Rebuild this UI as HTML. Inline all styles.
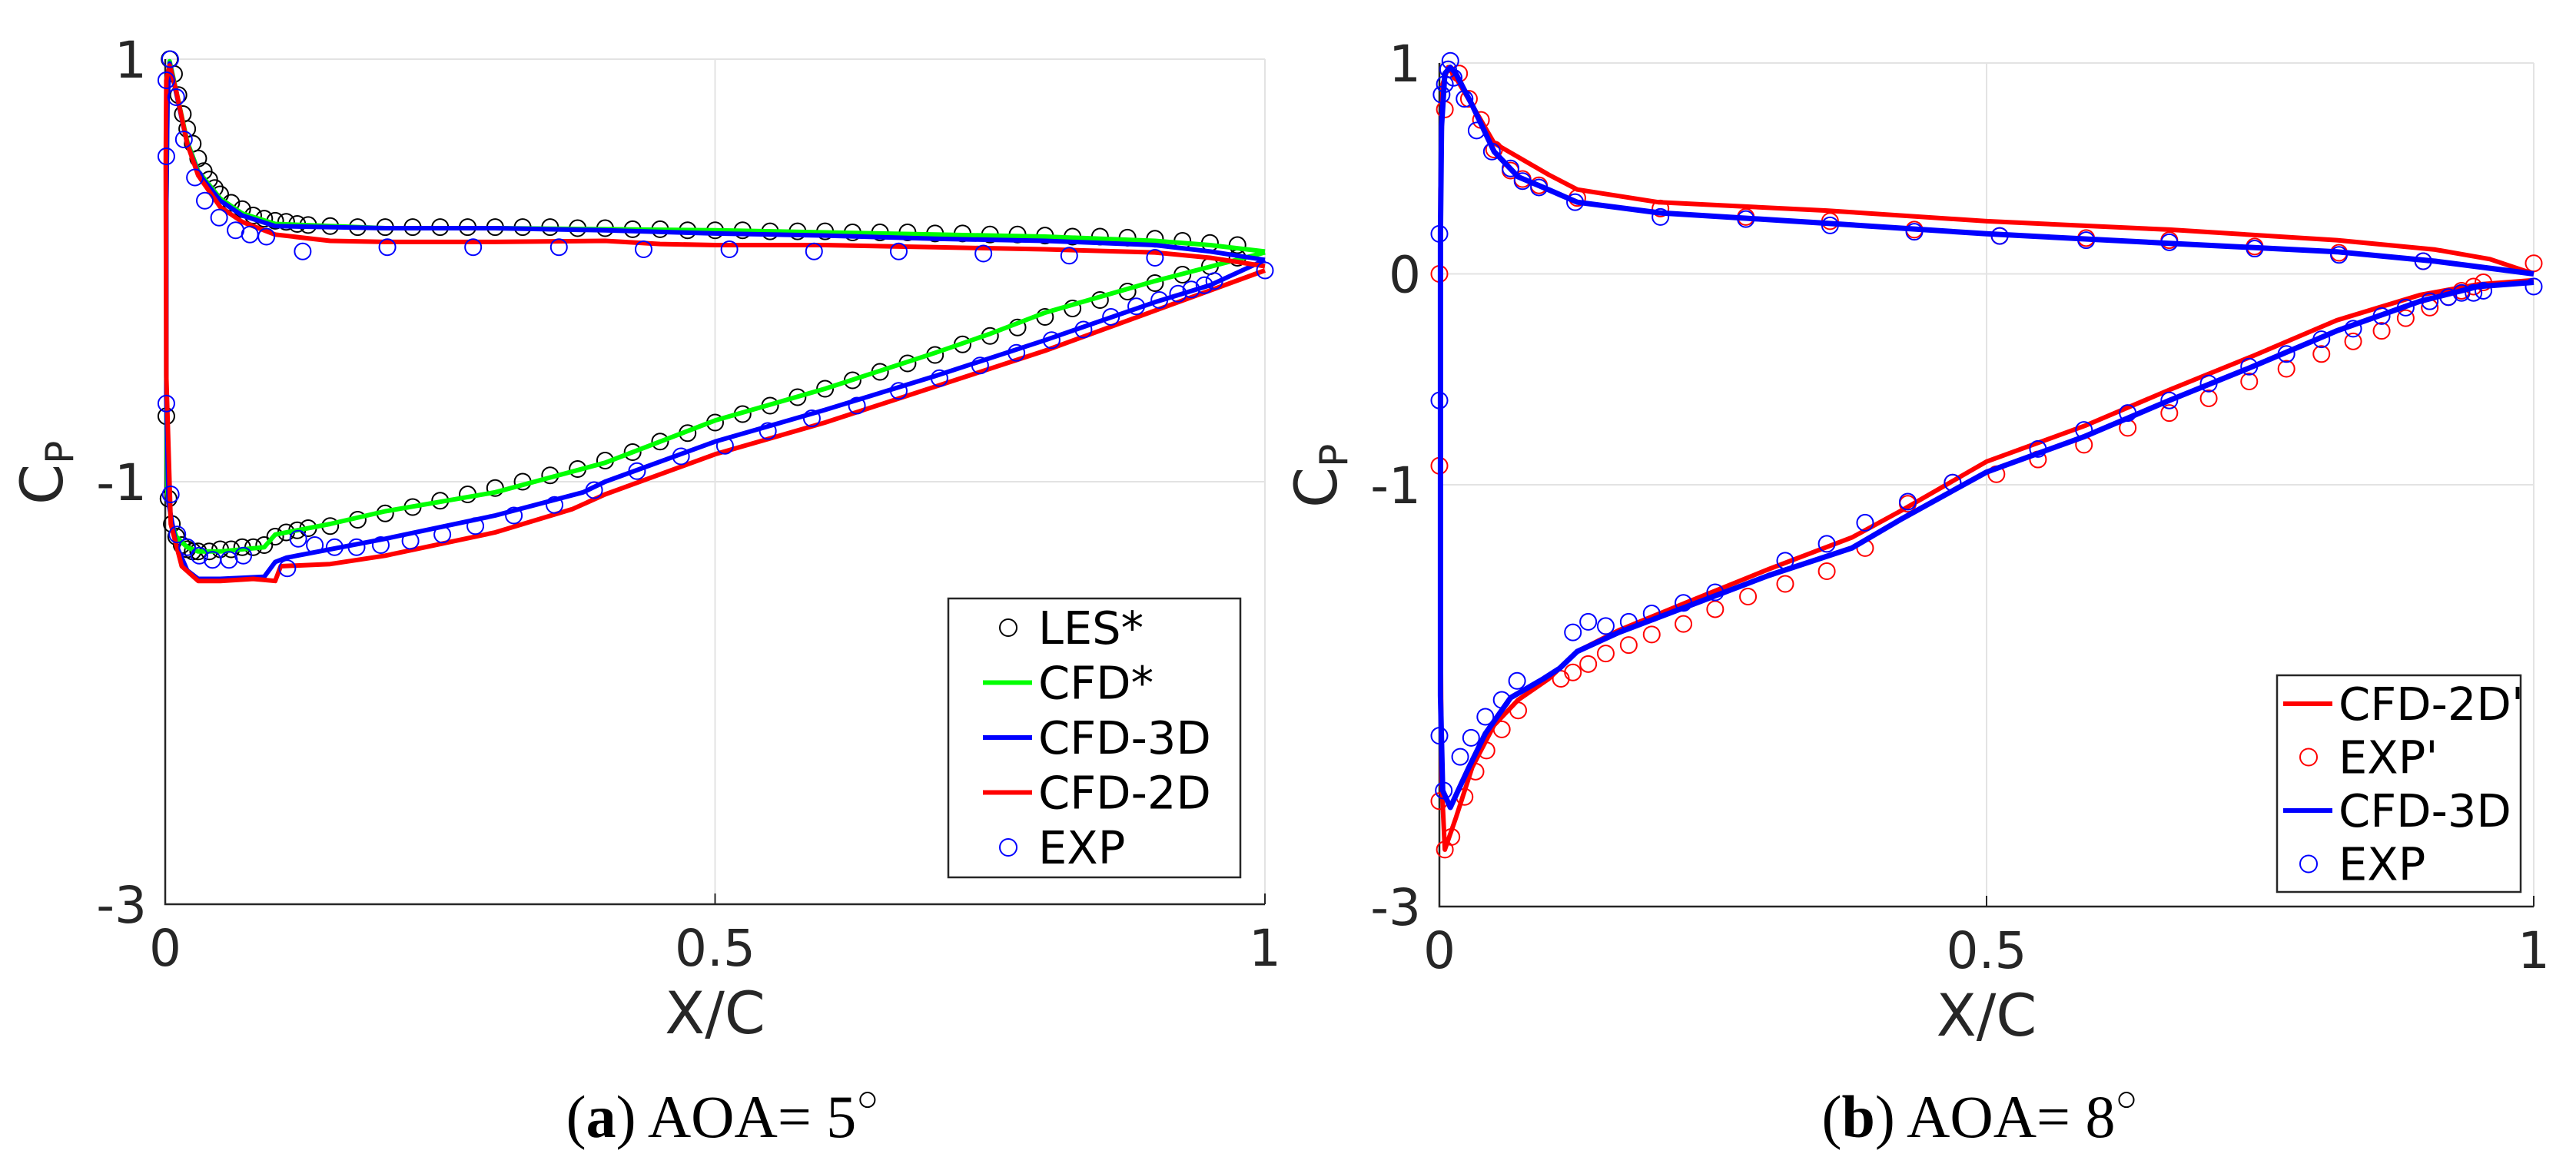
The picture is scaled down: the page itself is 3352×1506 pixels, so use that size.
<!DOCTYPE html>
<html><head><meta charset="utf-8"><style>
html,body{margin:0;padding:0;background:#fff;}
svg{display:block;}
text{font-family:"DejaVu Sans","Liberation Sans",sans-serif;fill:#262626;}
.cap{font-family:"Liberation Serif",serif;fill:#000;}
</style></head><body>
<svg id="chart" width="3352" height="1506" viewBox="0 0 3352 1506" xmlns="http://www.w3.org/2000/svg"></svg>
<script>
// ---------- Panel (a) AOA=5 data ----------
const aLesUpX=[0.004,0.008,0.012,0.016,0.02,0.025,0.03,0.035,0.04,0.045,0.05,0.06,0.07,0.08,0.09,0.1,0.11,0.12,0.13,0.15,0.175,0.2,0.225,0.25,0.275,0.3,0.325,0.35,0.375,0.4,0.425,0.45,0.475,0.5,0.525,0.55,0.575,0.6,0.625,0.65,0.675,0.7,0.725,0.75,0.775,0.8,0.825,0.85,0.875,0.9,0.925,0.95,0.975];
const aLesUpY=[1.0,0.93,0.83,0.74,0.67,0.6,0.53,0.47,0.43,0.39,0.36,0.32,0.29,0.26,0.245,0.235,0.23,0.22,0.215,0.21,0.205,0.205,0.205,0.205,0.205,0.205,0.205,0.205,0.2,0.2,0.195,0.195,0.19,0.19,0.19,0.185,0.185,0.185,0.18,0.18,0.18,0.175,0.175,0.17,0.17,0.165,0.16,0.16,0.155,0.15,0.14,0.13,0.12];
const aLesLoX=[0.001,0.003,0.006,0.01,0.015,0.02,0.025,0.03,0.04,0.05,0.06,0.07,0.08,0.09,0.1,0.11,0.12,0.13,0.15,0.175,0.2,0.225,0.25,0.275,0.3,0.325,0.35,0.375,0.4,0.425,0.45,0.475,0.5,0.525,0.55,0.575,0.6,0.625,0.65,0.675,0.7,0.725,0.75,0.775,0.8,0.825,0.85,0.875,0.9,0.925,0.95,0.975];
const aLesLoY=[-0.69,-1.08,-1.2,-1.26,-1.3,-1.32,-1.33,-1.33,-1.33,-1.32,-1.32,-1.31,-1.31,-1.3,-1.26,-1.24,-1.23,-1.22,-1.21,-1.18,-1.15,-1.12,-1.09,-1.06,-1.03,-1.0,-0.97,-0.94,-0.9,-0.86,-0.81,-0.77,-0.72,-0.68,-0.64,-0.6,-0.56,-0.52,-0.48,-0.44,-0.4,-0.35,-0.31,-0.27,-0.22,-0.18,-0.14,-0.1,-0.06,-0.02,0.02,0.06];
const aCfdStarX=[1,0.95,0.9,0.8,0.7,0.6,0.5,0.4,0.3,0.2,0.1,0.07,0.05,0.03,0.02,0.01,0.004,0.002,0.001,0.001,0.002,0.006,0.01,0.02,0.03,0.05,0.09,0.1,0.15,0.2,0.3,0.4,0.5,0.6,0.7,0.75,0.8,0.9,1];
const aCfdStarY=[0.09,0.12,0.14,0.16,0.17,0.18,0.19,0.195,0.2,0.2,0.22,0.27,0.34,0.47,0.61,0.85,0.99,0.8,0.3,-0.6,-1.05,-1.2,-1.26,-1.31,-1.33,-1.33,-1.31,-1.25,-1.2,-1.14,-1.05,-0.91,-0.71,-0.56,-0.39,-0.3,-0.2,-0.05,0.085];
const aCfd3dX=[1,0.95,0.9,0.8,0.7,0.6,0.5,0.4,0.3,0.2,0.1,0.07,0.05,0.03,0.02,0.01,0.004,0.002,0.001,0.001,0.003,0.01,0.02,0.03,0.05,0.09,0.1,0.11,0.2,0.3,0.38,0.4,0.5,0.6,0.7,0.8,0.9,0.95,1];
const aCfd3dY=[0.05,0.09,0.12,0.14,0.15,0.165,0.175,0.19,0.2,0.2,0.21,0.26,0.33,0.46,0.6,0.84,0.98,0.8,0.3,-0.6,-1.1,-1.3,-1.42,-1.46,-1.46,-1.45,-1.38,-1.36,-1.27,-1.16,-1.05,-1.0,-0.81,-0.66,-0.5,-0.33,-0.15,-0.07,0.05];
const aCfd2dX=[1,0.95,0.9,0.8,0.7,0.6,0.5,0.45,0.4,0.3,0.2,0.15,0.1,0.07,0.05,0.03,0.02,0.01,0.004,0.001,0.0005,0.001,0.005,0.015,0.03,0.05,0.08,0.1,0.105,0.15,0.2,0.3,0.37,0.4,0.5,0.6,0.7,0.8,0.9,1];
const aCfd2dY=[0.02,0.06,0.085,0.1,0.11,0.12,0.12,0.125,0.14,0.135,0.135,0.14,0.17,0.23,0.3,0.45,0.6,0.85,0.97,0.9,0.5,-0.5,-1.2,-1.4,-1.47,-1.47,-1.46,-1.47,-1.4,-1.39,-1.35,-1.24,-1.13,-1.06,-0.87,-0.72,-0.55,-0.38,-0.19,0.0];
const aExpX=[0.0045,0.001,0.01,0.001,0.017,0.027,0.036,0.049,0.064,0.077,0.092,0.125,0.202,0.28,0.358,0.435,0.513,0.59,0.667,0.744,0.822,0.9,1.0,0.001,0.005,0.011,0.02,0.031,0.043,0.058,0.071,0.111,0.121,0.136,0.154,0.174,0.196,0.223,0.252,0.282,0.317,0.354,0.39,0.429,0.469,0.509,0.548,0.588,0.629,0.667,0.704,0.741,0.774,0.806,0.835,0.86,0.883,0.904,0.921,0.933,0.945,0.954];
const aExpY=[1.0,0.9,0.82,0.54,0.62,0.44,0.33,0.25,0.19,0.17,0.16,0.09,0.11,0.11,0.11,0.1,0.1,0.09,0.09,0.08,0.07,0.06,0.0,-0.63,-1.06,-1.25,-1.31,-1.35,-1.37,-1.37,-1.35,-1.41,-1.27,-1.3,-1.31,-1.31,-1.3,-1.28,-1.25,-1.21,-1.16,-1.11,-1.04,-0.95,-0.88,-0.83,-0.76,-0.7,-0.64,-0.57,-0.51,-0.45,-0.39,-0.33,-0.28,-0.22,-0.17,-0.14,-0.11,-0.09,-0.07,-0.05];

// ---------- Panel (b) AOA=8 data ----------
const bCfd2dX=[1,0.96,0.91,0.82,0.667,0.5,0.354,0.2,0.126,0.1,0.05,0.03,0.015,0.008,0.003,0.001,0.001,0.002,0.005,0.015,0.03,0.05,0.072,0.1,0.126,0.164,0.225,0.301,0.377,0.423,0.5,0.59,0.667,0.743,0.82,0.896,0.949,1];
const bCfd2dY=[0.0,0.07,0.115,0.16,0.21,0.25,0.3,0.34,0.4,0.47,0.62,0.8,0.93,0.98,0.9,0.4,-1.5,-2.4,-2.73,-2.58,-2.34,-2.14,-2.02,-1.92,-1.79,-1.69,-1.56,-1.4,-1.25,-1.12,-0.89,-0.72,-0.55,-0.39,-0.22,-0.1,-0.05,-0.03];
const bCfd3dX=[1,0.91,0.82,0.667,0.5,0.354,0.2,0.126,0.095,0.072,0.05,0.03,0.015,0.01,0.005,0.002,0.001,0.001,0.003,0.01,0.027,0.042,0.065,0.095,0.11,0.126,0.164,0.225,0.301,0.377,0.423,0.5,0.59,0.667,0.743,0.82,0.896,0.949,1];
const bCfd3dY=[0.0,0.06,0.105,0.145,0.19,0.24,0.29,0.34,0.41,0.46,0.58,0.8,0.95,0.98,0.95,0.7,0.2,-2.0,-2.45,-2.53,-2.34,-2.18,-2.01,-1.92,-1.87,-1.79,-1.7,-1.58,-1.43,-1.3,-1.16,-0.94,-0.77,-0.6,-0.44,-0.27,-0.13,-0.06,-0.04];
const bExpPX=[0,0,0,0.005,0.011,0.005,0.018,0.027,0.038,0.05,0.065,0.076,0.091,0.126,0.202,0.28,0.357,0.434,0.512,0.591,0.667,0.745,0.822,0.899,1.0,0.023,0.033,0.043,0.057,0.072,0.111,0.122,0.136,0.152,0.173,0.194,0.223,0.252,0.282,0.316,0.354,0.389,0.428,0.469,0.509,0.547,0.589,0.629,0.667,0.703,0.74,0.774,0.806,0.835,0.861,0.883,0.905,0.922,0.934,0.945,0.954];
const bExpPY=[0.0,-0.91,-2.5,-2.73,-2.67,0.78,0.95,0.83,0.73,0.59,0.49,0.45,0.42,0.36,0.31,0.27,0.25,0.21,0.18,0.17,0.16,0.13,0.1,0.06,0.05,-2.48,-2.36,-2.26,-2.16,-2.07,-1.92,-1.89,-1.85,-1.8,-1.76,-1.71,-1.66,-1.59,-1.53,-1.47,-1.41,-1.3,-1.09,-0.99,-0.95,-0.88,-0.81,-0.73,-0.66,-0.59,-0.51,-0.45,-0.38,-0.32,-0.27,-0.21,-0.16,-0.11,-0.08,-0.06,-0.04];
const bExpX=[0.01,0.008,0.005,0.002,0,0,0,0.004,0.013,0.023,0.034,0.048,0.065,0.076,0.091,0.124,0.202,0.28,0.357,0.434,0.512,0.591,0.667,0.745,0.822,0.899,1.0,0.019,0.029,0.042,0.057,0.071,0.122,0.136,0.152,0.173,0.194,0.223,0.252,0.316,0.354,0.389,0.428,0.469,0.547,0.589,0.629,0.667,0.703,0.74,0.774,0.806,0.835,0.861,0.883,0.905,0.922,0.934,0.945,0.954];
const bExpY=[1.01,0.97,0.9,0.85,0.19,-0.6,-2.19,-2.45,0.93,0.83,0.68,0.58,0.5,0.44,0.41,0.34,0.27,0.26,0.23,0.2,0.18,0.16,0.15,0.12,0.09,0.06,-0.06,-2.29,-2.2,-2.1,-2.02,-1.93,-1.7,-1.65,-1.67,-1.65,-1.61,-1.56,-1.51,-1.36,-1.28,-1.18,-1.08,-0.99,-0.83,-0.74,-0.66,-0.6,-0.52,-0.44,-0.38,-0.31,-0.26,-0.2,-0.16,-0.13,-0.11,-0.09,-0.09,-0.08];

// ---------- ticks / legends ----------
const xTicks=[0,0.5,1];
const xTickLabels=["0","0.5","1"];
const aYTicks=[1,-1,-3];
const aYTickLabels=["1","-1","-3"];
const bYTicks=[1,0,-1,-3];
const bYTickLabels=["1","0","-1","-3"];
const aLegendLabels=["LES*","CFD*","CFD-3D","CFD-2D","EXP"];
const bLegendLabels=["CFD-2D'","EXP'","CFD-3D","EXP"];

const NS="http://www.w3.org/2000/svg";
const svg=document.getElementById('chart');
function mk(tag,attrs,parent){const e=document.createElementNS(NS,tag);for(const k in attrs)e.setAttribute(k,attrs[k]);(parent||svg).appendChild(e);return e;}

function panel(cfg){
  const g=mk('g',{});
  
  
  const sx=v=>cfg.x0+v*(cfg.x1-cfg.x0);
  const sy=v=>cfg.yT+(1-v)*(cfg.yB-cfg.yT)/4;
  // grid
  xTicks.forEach(t=>{if(t>0){const l=mk('line',{x1:sx(t),x2:sx(t),y1:cfg.yT,y2:cfg.yB,stroke:'#e3e3e3','stroke-width':2},g);
    
    }});
  cfg.yTicks.forEach(t=>{if(t>-3){const l=mk('line',{x1:cfg.x0,x2:cfg.x1,y1:sy(t),y2:sy(t),stroke:'#e3e3e3','stroke-width':2},g);
    
    }});
  // axes
  const ax=mk('path',{d:`M${cfg.x0},${cfg.yT} V${cfg.yB} H${cfg.x1}`,fill:'none',stroke:'#262626','stroke-width':2.5},g);
  
  
  xTicks.forEach((t,i)=>{
    mk('line',{x1:sx(t),x2:sx(t),y1:cfg.yB,y2:cfg.yB-14,stroke:'#262626','stroke-width':2},g);
    const tx=mk('text',{x:sx(t),y:cfg.yB+80,'font-size':66,'text-anchor':'middle'},g);
    tx.textContent=xTickLabels[i];
    
    
  });
  cfg.yTicks.forEach((t,i)=>{
    const tx=mk('text',{x:cfg.x0-24,y:sy(t)+24,'font-size':66,'text-anchor':'end'},g);
    tx.textContent=cfg.yTickLabels[i];
    
    
  });
  const xl=mk('text',{x:(cfg.x0+cfg.x1)/2,y:cfg.yB+168,'font-size':76,'text-anchor':'middle'},g);
  xl.textContent='X/C';
  
  
  const yl=mk('text',{transform:`translate(${cfg.x0-134},${sy(-1)+30}) rotate(-90)`,'font-size':76},g);
  
  
  yl.innerHTML='C<tspan font-size="50" dy="14">P</tspan>';
  const cap=mk('text',{x:cfg.capX,y:1480,'font-size':78,'text-anchor':'middle',class:'cap'},g);
  cap.innerHTML=cfg.capHtml;
  
  
  // series
  cfg.series.forEach(s=>{
    const sg=mk('g',{},g);
    
    
    if(s.type==='line'){
      const d=s.xs.map((x,i)=>(i?'L':'M')+sx(x).toFixed(1)+','+sy(s.ys[i]).toFixed(1)).join(' ');
      mk('path',{d,fill:'none',stroke:s.color,'stroke-width':s.w||6,'stroke-linejoin':'round'},sg);
    } else {
      s.xs.forEach((x,i)=>{
        const c=mk('circle',{cx:sx(x),cy:sy(s.ys[i]),r:10.5,fill:'none',stroke:s.color,'stroke-width':2},sg);
        
        
      });
    }
  });
  // legend
  const lg=mk('g',{},g);
  
  
  mk('rect',{x:cfg.lx,y:cfg.ly,width:cfg.lw,height:cfg.lh,fill:'#fff',stroke:'#262626','stroke-width':2.5},lg);
  cfg.legend.forEach((e,i)=>{
    const cy=cfg.ly+cfg.l0+i*cfg.ld;
    const eg=mk('g',{},lg);
    
    
    if(e.type==='line') mk('line',{x1:cfg.lx+cfg.sx0,x2:cfg.lx+cfg.sx0+64,y1:cy,y2:cy,stroke:e.color,'stroke-width':6},eg);
    else mk('circle',{cx:cfg.lx+cfg.sx0+33,cy,r:11,fill:'none',stroke:e.color,'stroke-width':2},eg);
    const t=mk('text',{x:cfg.lx+cfg.sx0+72,y:cy+21,'font-size':59,style:'fill:#000'},eg);
    t.textContent=e.label;
  });
}

panel({name:'panel-a-aoa5',x0:215,x1:1646,yT:77,yB:1177,yTicks:aYTicks,yTickLabels:aYTickLabels,capX:940,
  capHtml:'(<tspan font-weight="bold">a</tspan>) AOA= 5<tspan font-size="48" dy="-34">○</tspan>',
  series:[
    {name:'les-star-series',type:'pts',xs:aLesUpX,ys:aLesUpY,color:'#000'},
    {name:'les-star-series-lower',type:'pts',xs:aLesLoX,ys:aLesLoY,color:'#000'},
    {name:'cfd-star-line',type:'line',xs:aCfdStarX,ys:aCfdStarY,color:'#00ff00'},
    {name:'cfd-3d-line',type:'line',xs:aCfd3dX,ys:aCfd3dY,color:'#0000ff'},
    {name:'cfd-2d-line',type:'line',xs:aCfd2dX,ys:aCfd2dY,color:'#ff0000'},
    {name:'exp-series',type:'pts',xs:aExpX,ys:aExpY,color:'#0000ff'}],
  lx:1234,ly:779,lw:380,lh:363,l0:38,ld:71.5,sx0:45,
  legend:[{type:'pt',color:'#000',label:aLegendLabels[0]},{type:'line',color:'#00ff00',label:aLegendLabels[1]},
    {type:'line',color:'#0000ff',label:aLegendLabels[2]},{type:'line',color:'#ff0000',label:aLegendLabels[3]},
    {type:'pt',color:'#0000ff',label:aLegendLabels[4]}]
});
panel({name:'panel-b-aoa8',x0:1873,x1:3297,yT:82,yB:1180,yTicks:bYTicks,yTickLabels:bYTickLabels,capX:2576,
  capHtml:'(<tspan font-weight="bold">b</tspan>) AOA= 8<tspan font-size="48" dy="-34">○</tspan>',
  series:[
    {name:'cfd-2d-prime-line',type:'line',xs:bCfd2dX,ys:bCfd2dY,color:'#ff0000'},
    {name:'exp-prime-series',type:'pts',xs:bExpPX,ys:bExpPY,color:'#ff0000'},
    {name:'cfd-3d-line',type:'line',xs:bCfd3dX,ys:bCfd3dY,color:'#0000ff',w:7},
    {name:'exp-series',type:'pts',xs:bExpX,ys:bExpY,color:'#0000ff'}],
  lx:2963,ly:879,lw:317,lh:282,l0:37,ld:69.5,sx0:8,
  legend:[{type:'line',color:'#ff0000',label:bLegendLabels[0]},{type:'pt',color:'#ff0000',label:bLegendLabels[1]},
    {type:'line',color:'#0000ff',label:bLegendLabels[2]},{type:'pt',color:'#0000ff',label:bLegendLabels[3]}]
});
</script>
</body></html>
